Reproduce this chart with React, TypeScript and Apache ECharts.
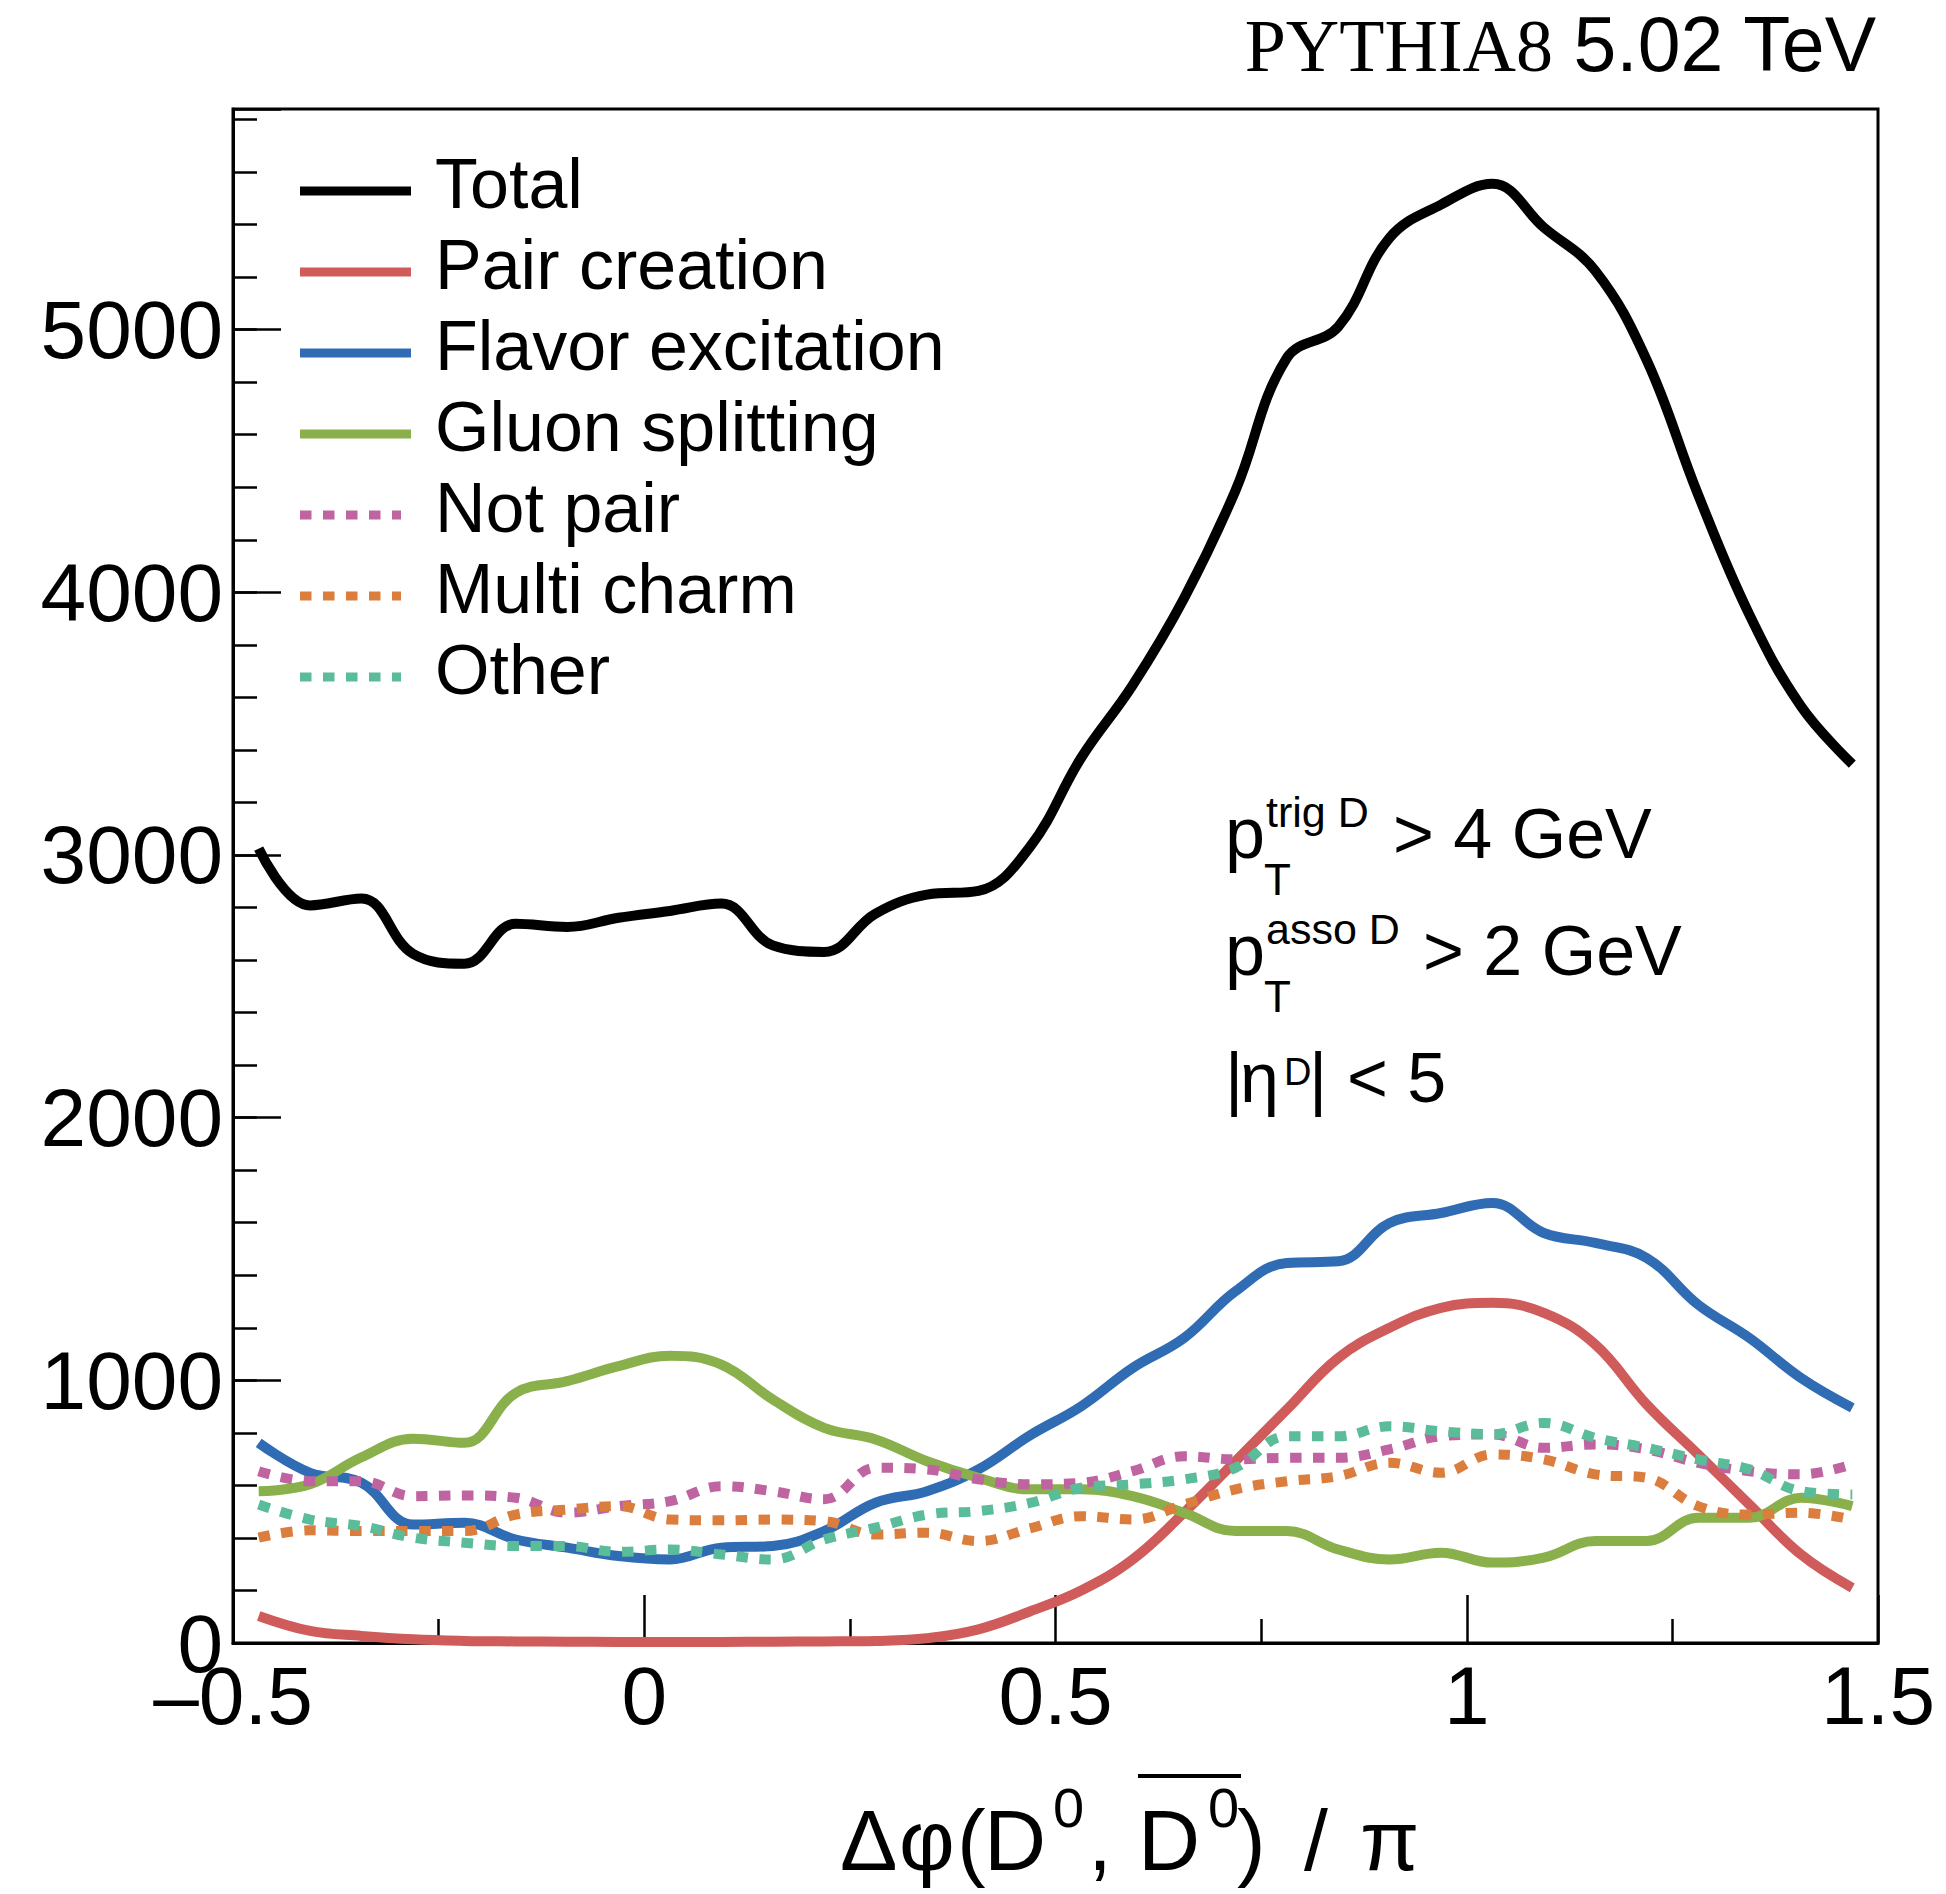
import React, { useEffect, useRef } from "react";
import * as echarts from "echarts";

// Bin centres of the Δφ/π histogram (32 bins from -0.5 to 1.5)
const binCenters = [
  -0.46875, -0.40625, -0.34375, -0.28125, -0.21875, -0.15625, -0.09375, -0.03125,
  0.03125, 0.09375, 0.15625, 0.21875, 0.28125, 0.34375, 0.40625, 0.46875,
  0.53125, 0.59375, 0.65625, 0.71875, 0.78125, 0.84375, 0.90625, 0.96875,
  1.03125, 1.09375, 1.15625, 1.21875, 1.28125, 1.34375, 1.40625, 1.46875,
];

const totalValues = [
  3024, 2808, 2834, 2624, 2586, 2738, 2726, 2761, 2787, 2815, 2656, 2631, 2777, 2849, 2863, 3030,
  3370, 3646, 3977, 4387, 4892, 5011, 5350, 5476, 5555, 5389, 5224, 4884, 4372, 3914, 3567, 3346,
];
const pairCreationValues = [
  103, 46, 27, 14, 8, 6, 5, 4, 4, 4, 5, 6, 8, 18, 52, 120,
  200, 318, 496, 692, 889, 1085, 1200, 1276, 1295, 1257, 1136, 908, 718, 527, 337, 210,
];
const flavorExcitationValues = [
  762, 648, 610, 451, 458, 394, 363, 331, 318, 363, 369, 426, 534, 578, 661, 790,
  901, 1047, 1161, 1339, 1447, 1453, 1599, 1637, 1675, 1561, 1523, 1466, 1288, 1161, 1009, 895,
];
const gluonSplittingValues = [
  578, 604, 707, 778, 762, 952, 997, 1054, 1094, 1060, 927, 819, 775, 692, 629, 585,
  585, 559, 496, 426, 426, 356, 318, 344, 306, 325, 388, 388, 477, 477, 553, 521,
];
const notPairValues = [
  654, 616, 616, 559, 562, 553, 496, 521, 540, 597, 578, 547, 667, 661, 623, 604,
  610, 654, 711, 699, 705, 705, 737, 787, 794, 743, 756, 737, 686, 654, 642, 680,
];
const multiCharmValues = [
  401, 429, 426, 426, 426, 489, 508, 521, 470, 467, 470, 464, 413, 420, 388, 436,
  483, 470, 527, 585, 616, 635, 686, 648, 718, 699, 642, 629, 521, 489, 496, 470,
];
const otherValues = [
  527, 470, 445, 401, 382, 369, 369, 347, 356, 337, 318, 394, 439, 489, 502, 533,
  591, 604, 623, 667, 787, 787, 825, 806, 795, 838, 781, 743, 699, 661, 578, 565,
];

const seriesNames = [
  "Total",
  "Pair creation",
  "Flavor excitation",
  "Gluon splitting",
  "Not pair",
  "Multi charm",
  "Other",
];
const seriesColors = ["#000000", "#CF5B5B", "#2F6CB4", "#89B04B", "#BF64A0", "#DB7D3C", "#5ABC98"];
const seriesDotted = [false, false, false, false, true, true, true];

const X_MIN = -0.5;
const X_MAX = 1.5;
const Y_MIN = 0;
const Y_MAX = 5840;

const SANS = "'Liberation Sans', Arial, Helvetica, sans-serif";
const SERIF = "'Liberation Serif', 'Times New Roman', Times, serif";

// legend icons: line sample (y 0..9) plus invisible sentinels that widen / raise the icon box
const SOLID_ICON = "path://M0,0H111V9H0Z M130,-14L130,9";
const DOT_ICON =
  "path://M0,0H11.5V9H0Z M23,0H34.5V9H23Z M46,0H57.5V9H46Z M69,0H80.5V9H69Z M92,0H101V9H92Z M130,-14L130,9";

function txt(
  text: string,
  x: number,
  baseline: number,
  size: number,
  font: string = SANS,
  align: string = "left"
) {
  const central = font === SERIF ? 0.3375 : 0.3465;
  return {
    type: "text",
    x,
    y: baseline - central * size,
    silent: true,
    style: {
      text,
      fontSize: size,
      fontFamily: font,
      fill: "#000",
      align,
      verticalAlign: "middle",
    },
  };
}

export default function App() {
  const ref = useRef<HTMLDivElement>(null);

  useEffect(() => {
    if (!ref.current) return;
    const chart = echarts.init(ref.current, null, { renderer: "svg" });
    const allValues = [
      totalValues,
      pairCreationValues,
      flavorExcitationValues,
      gluonSplittingValues,
      notPairValues,
      multiCharmValues,
      otherValues,
    ];

    const series = seriesNames.map((name, i) => ({
      name,
      type: "line",
      xAxisIndex: 0,
      yAxisIndex: 0,
      data: binCenters.map((x, k) => [x, allValues[i][k]]),
      smooth: 0.4,
      symbol: "none",
      showSymbol: false,
      silent: true,
      itemStyle: { color: seriesColors[i] },
      lineStyle: {
        color: seriesColors[i],
        width: 10,
        type: seriesDotted[i] ? [11.5, 11.5] : "solid",
        cap: "butt",
        join: "round",
      },
      z: 3,
    }));

    const fmtX = (v: number) => {
      const r = Math.round(v * 4) / 4;
      if (Math.abs(r * 2 - Math.round(r * 2)) > 1e-9) return "";
      if (r < 0) return "\u2013" + String(Math.abs(r));
      return String(r);
    };
    const fmtY = (v: number) => {
      const r = Math.round(v);
      return r % 1000 === 0 ? String(r) : "";
    };

    const tickStyle = { color: "#000", width: 2.5 };

    const B1 = 858;
    const B2 = 975;
    const B3 = 1102;
    const BT = 1870;

    const option = {
      animation: false,
      backgroundColor: "#ffffff",
      textStyle: { fontFamily: SANS },
      grid: {
        left: 233,
        right: 68,
        top: 109,
        bottom: 251,
        show: true,
        borderColor: "#000",
        borderWidth: 3,
        backgroundColor: "transparent",
      },
      xAxis: [
        {
          type: "value",
          min: X_MIN,
          max: X_MAX,
          interval: 0.5,
          position: "bottom",
          axisLine: { show: true, onZero: false, lineStyle: { color: "#000", width: 3 } },
          axisTick: { show: true, inside: true, length: 48, lineStyle: tickStyle },
          minorTick: { show: true, splitNumber: 2, length: 24, lineStyle: tickStyle },
          splitLine: { show: false },
          minorSplitLine: { show: false },
          axisLabel: {
            show: true,
            fontSize: 82,
            fontFamily: SANS,
            color: "#000",
            margin: 11,
            showMinLabel: true,
            showMaxLabel: true,
            formatter: fmtX,
          },
        },
      ],
      yAxis: [
        {
          type: "value",
          min: Y_MIN,
          max: Y_MAX,
          interval: 200,
          position: "left",
          axisLine: { show: true, onZero: false, lineStyle: { color: "#000", width: 3 } },
          axisTick: { show: true, inside: true, length: 24, lineStyle: tickStyle },
          splitLine: { show: false },
          axisLabel: {
            show: true,
            fontSize: 82,
            fontFamily: SANS,
            color: "#000",
            margin: 10,
            showMinLabel: true,
            showMaxLabel: false,
            formatter: fmtY,
          },
        },
        {
          type: "value",
          min: Y_MIN,
          max: Y_MAX,
          interval: 1000,
          position: "left",
          axisLine: { show: false, onZero: false },
          axisTick: { show: true, inside: true, length: 48, lineStyle: tickStyle },
          splitLine: { show: false },
          axisLabel: { show: false },
        },
      ],
      legend: {
        orient: "vertical",
        left: 300,
        top: 149,
        padding: 0,
        itemGap: 11,
        itemWidth: 130,
        itemHeight: 23,
        selectedMode: false,
        textStyle: { fontSize: 70, color: "#000", fontFamily: SANS },
        data: seriesNames.map((name, i) => ({
          name,
          icon: seriesDotted[i] ? DOT_ICON : SOLID_ICON,
          itemStyle: { color: seriesColors[i], borderWidth: 0 },
        })),
      },
      graphic: [
        // header
        txt("PYTHIA8", 1553, 71, 74, SERIF, "right"),
        txt("5.02 TeV", 1876, 71, 77, SANS, "right"),
        // cuts
        txt("p", 1225, B1, 72),
        txt("trig D", 1266, B1 - 31, 43),
        txt("T", 1264, B1 + 37, 44),
        txt("> 4 GeV", 1393, B1, 70),
        txt("p", 1225, B2, 72),
        txt("asso D", 1266, B2 - 31, 43),
        txt("T", 1264, B2 + 37, 44),
        txt("> 2 GeV", 1423, B2, 70),
        txt("|", 1225, B3, 70),
        txt("η", 1240, B3, 70),
        txt("D", 1284, B3 - 17, 38),
        txt("|", 1309, B3, 70),
        txt("< 5", 1347, B3, 70),
        // x-axis title: Δφ(D0, D0bar) / π
        txt("Δ", 840, BT, 86),
        txt("φ", 899, BT, 86),
        txt("(", 957, BT, 86),
        txt("D", 984, BT, 86),
        txt("0", 1053, BT - 43, 56),
        txt(",", 1088, BT, 86),
        txt("D", 1138, BT, 86),
        txt("0", 1208, BT - 43, 56),
        txt(")", 1237, BT, 86),
        txt("/", 1304, BT, 86),
        txt("π", 1360, BT, 86),
        {
          type: "line",
          silent: true,
          shape: { x1: 1138, y1: 1776, x2: 1241, y2: 1776 },
          style: { stroke: "#000", lineWidth: 4 },
        },
      ],
      series,
    };

    chart.setOption(option as any);
    return () => {
      chart.dispose();
    };
  }, []);

  return (
    <div
      ref={ref}
      style={{
        position: "fixed",
        left: 0,
        top: 0,
        width: 1946,
        height: 1894,
        background: "#ffffff",
      }}
    />
  );
}
